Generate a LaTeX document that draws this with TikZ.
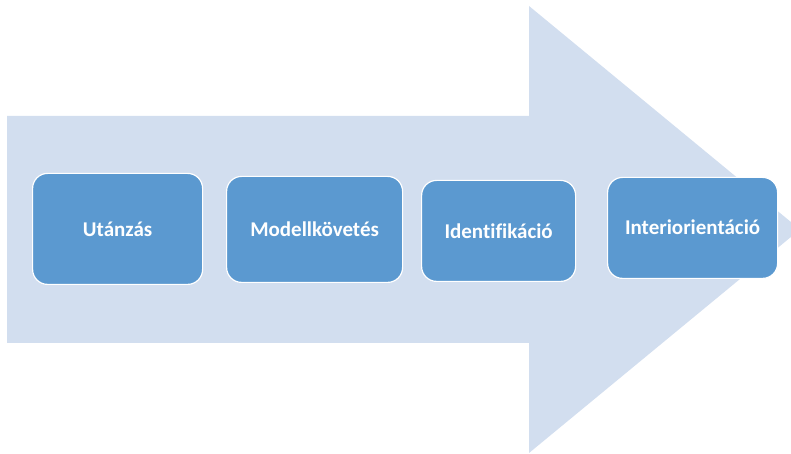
\documentclass[tikz,border=0pt]{standalone}
\usepackage{fontspec}
\setmainfont{Carlito}[Ligatures=NoCommon]
\definecolor{arrowfill}{RGB}{210,222,239}
\definecolor{boxfill}{RGB}{91,153,208}
\tikzset{
  stage/.style={draw=white, line width=1.2pt, fill=boxfill, rounded corners=15pt,
    anchor=south west, inner sep=0pt},
  stagelabel/.style={text=white, font=\fontsize{21}{23}\selectfont\bfseries, inner sep=0pt},
}
\begin{document}
\begin{tikzpicture}[x=1pt,y=1pt]
\useasboundingbox (0,0) rectangle (791,454);
\begin{scope}
\clip (0,0) rectangle (791,454);
\fill[arrowfill] (7,{454-116}) -- (529,{454-116}) -- (529,{454-6}) -- (800,{454-229.5})
  -- (529,{454-453}) -- (529,{454-343}) -- (7,{454-343}) -- cycle;
\end{scope}
\node[stage, minimum width=170pt, minimum height=111pt] (u) at (32,{454-285}) {};
\node[stagelabel] at (u.center) {Utánzás};
\node[stage, minimum width=176pt, minimum height=106pt] (m) at (226,{454-283}) {};
\node[stagelabel] at (m.center) {Modellkövetés};
\node[stage, minimum width=154pt, minimum height=101pt] (i) at (421,{454-282}) {};
\node[stagelabel] at (i.center) {Identifikáció};
\node[stage, minimum width=170pt, minimum height=101pt] (o) at (607,{454-279}) {};
\node[stagelabel] at ([yshift=0.5pt]o.center) {Interiorientáció};
\end{tikzpicture}
\end{document}
